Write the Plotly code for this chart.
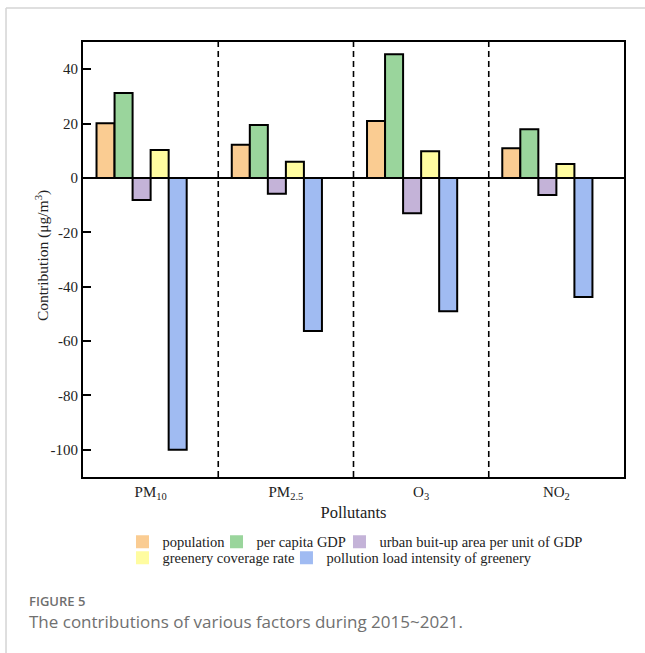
import plotly.graph_objects as go

# Pollutant categories (x axis) and tick labels
pollutants = ["PM10", "PM2.5", "O3", "NO2"]
tick_labels = ["PM<sub>10</sub>", "PM<sub>2.5</sub>", "O<sub>3</sub>", "NO<sub>2</sub>"]

# Factor contributions (µg/m³) per pollutant
population = [20.1, 12.2, 20.9, 10.9]
per_capita_gdp = [31.2, 19.5, 45.5, 17.9]
urban_area_per_gdp = [-8.1, -5.8, -13.0, -6.3]
greenery_coverage = [10.3, 6.0, 9.8, 5.1]
pollution_load = [-100.0, -56.3, -49.0, -43.8]

y_ticks = [-100, -80, -60, -40, -20, 0, 20, 40]
y_tick_text = ["-100", "-80", "-60", "-40", "-20", "0", "20", "40"]

series = [
    ("population", population, "#FACC92"),
    ("per capita GDP", per_capita_gdp, "#9AD59C"),
    ("urban buit-up area per unit of GDP", urban_area_per_gdp, "#C4B3D8"),
    ("greenery coverage rate", greenery_coverage, "#FFFCA0"),
    ("pollution load intensity of greenery", pollution_load, "#A0BBF2"),
]

# Legend entry anchors (paper coords): two rows under the axis
legend_pos = [(0.073, -0.149), (0.2468, -0.149), (0.4741, -0.149),
              (0.073, -0.186), (0.3761, -0.186)]

SERIF = "Liberation Serif, Times New Roman, serif"
TXT = "#222"
x_idx = list(range(len(pollutants)))
slot = 0.8 / 6  # six slots per group, the last one left empty

fig = go.Figure()
legend_layout = {}
for i, (name, vals, color) in enumerate(series):
    leg = "legend" if i == 0 else f"legend{i + 1}"
    fig.add_trace(go.Bar(
        x=x_idx, y=vals, name=name, showlegend=False,
        width=slot, offset=-0.4 + i * slot,
        marker=dict(color=color, line=dict(color="black", width=2)),
    ))
    # plain square swatch for the legend (no outline)
    fig.add_trace(go.Scatter(
        x=[None], y=[None], mode="markers", name=name, legend=leg,
        marker=dict(symbol="square", size=13, color=color, line=dict(width=0)),
    ))
    lx, ly = legend_pos[i]
    legend_layout[leg] = dict(orientation="h", x=lx, y=ly, xanchor="left",
                              yanchor="middle",
                              font=dict(family=SERIF, size=14.5, color=TXT),
                              itemwidth=30, bgcolor="rgba(0,0,0,0)")

# Dashed separators between pollutant groups
for b in [0.5, 1.5, 2.5]:
    fig.add_shape(type="line", xref="x", yref="paper", x0=b, x1=b, y0=0, y1=1,
                  line=dict(color="black", width=1.6, dash="6px,4px"))

# Zero baseline
fig.add_shape(type="line", xref="paper", yref="y", x0=0, x1=1, y0=0, y1=0,
              line=dict(color="black", width=2))

# Light frame around the figure panel
fig.add_shape(type="line", xref="paper", yref="paper", x0=-0.1423, x1=1.04,
              y0=1.078, y1=1.078, line=dict(color="#d4d4d4", width=1.5))
fig.add_shape(type="line", xref="paper", yref="paper", x0=-0.1423, x1=-0.1423,
              y0=1.078, y1=-0.41, line=dict(color="#d4d4d4", width=1.5))

# Y-axis title
fig.add_annotation(text="Contribution (μg/m<sup>3</sup>)", xref="paper", yref="paper",
                   x=-0.076, y=0.51, textangle=-90, showarrow=False,
                   xanchor="center", yanchor="middle",
                   font=dict(family=SERIF, size=15.5, color=TXT))

fig.add_annotation(text="FIGURE 5", xref="paper", yref="paper",
                   x=-0.1035, y=-0.285, xanchor="left", yanchor="middle",
                   showarrow=False,
                   font=dict(family="Open Sans, sans-serif", size=13, color="#6f6f6f",
                             weight=600))
fig.add_annotation(text="The contributions of various factors during 2015~2021.",
                   xref="paper", yref="paper", x=-0.1035, y=-0.333,
                   xanchor="left", yanchor="middle", showarrow=False,
                   font=dict(family="Open Sans, sans-serif", size=17, color="#707070"))

fig.update_layout(
    width=645, height=653,
    margin=dict(l=83, r=21, t=42, b=176),
    plot_bgcolor="white", paper_bgcolor="white",
    font=dict(family=SERIF, size=14, color=TXT),
    barmode="overlay",
    **legend_layout,
)

fig.update_xaxes(
    range=[-0.5, 3.5], tickvals=x_idx, ticktext=tick_labels,
    showline=True, mirror=True, linecolor="black", linewidth=2,
    ticks="", showgrid=False, zeroline=False,
    tickfont=dict(family=SERIF, size=15, color=TXT),
    title=dict(text="Pollutants", font=dict(family=SERIF, size=16.5, color=TXT), standoff=5),
)
fig.update_yaxes(
    range=[-110, 50], tickvals=y_ticks, ticktext=y_tick_text,
    showline=True, mirror=True, linecolor="black", linewidth=2,
    ticks="inside", ticklen=8, tickwidth=2, tickcolor="black",
    showgrid=False, zeroline=False,
    tickfont=dict(family=SERIF, size=15, color=TXT),
)

fig.write_html("out.html")
